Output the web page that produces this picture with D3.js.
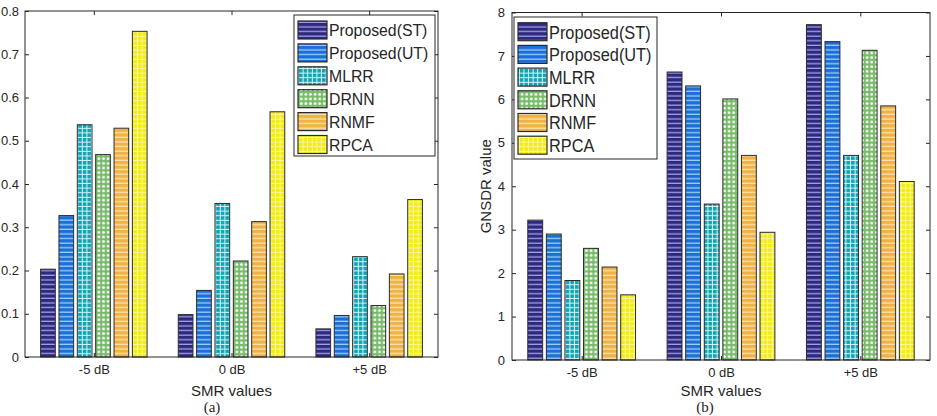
<!DOCTYPE html>
<html>
<head>
<meta charset="utf-8">
<script src="https://cdn.jsdelivr.net/npm/d3@7"></script>
<style>
  body { margin: 0; background: #fff; }
  text { font-family: "Liberation Sans", Arial, sans-serif; fill: #262626; }
</style>
</head>
<body>
<div id="chart"></div>
<script>
// data
var categories = ["-5 dB", "0 dB", "+5 dB"];
var methods = ["Proposed(ST)", "Proposed(UT)", "MLRR", "DRNN", "RNMF", "RPCA"];

// (a) values, one array per method, in category order
var aST   = [0.203, 0.098, 0.065];
var aUT   = [0.327, 0.154, 0.096];
var aMLRR = [0.537, 0.355, 0.232];
var aDRNN = [0.468, 0.222, 0.119];
var aRNMF = [0.529, 0.313, 0.192];
var aRPCA = [0.753, 0.567, 0.364];

// (b) GNSDR values
var bST   = [3.22, 6.63, 7.72];
var bUT   = [2.90, 6.31, 7.33];
var bMLRR = [1.83, 3.59, 4.71];
var bDRNN = [2.57, 6.01, 7.13];
var bRNMF = [2.14, 4.71, 5.85];
var bRPCA = [1.50, 2.94, 4.11];

var yTicksA = [0, 0.1, 0.2, 0.3, 0.4, 0.5, 0.6, 0.7, 0.8];
var yTicksB = [0, 1, 2, 3, 4, 5, 6, 7, 8];

var svg = d3.select("#chart").append("svg")
  .attr("width", 937)
  .attr("height", 416);

svg.append("rect").attr("width", 937).attr("height", 416).attr("fill", "#fff");

// hatch patterns (matlab hatchfill look)
var defs = svg.append("defs");
var step = 4.6;

function stripes(id, base, line) {
  var p = defs.append("pattern").attr("id", id)
    .attr("patternUnits", "userSpaceOnUse")
    .attr("width", step).attr("height", step);
  p.append("rect").attr("width", step).attr("height", step).attr("fill", base);
  p.append("rect").attr("y", step - 1.3).attr("width", step).attr("height", 1.3).attr("fill", line);
}
function grid(id, base, line) {
  var p = defs.append("pattern").attr("id", id)
    .attr("patternUnits", "userSpaceOnUse")
    .attr("width", step).attr("height", step);
  p.append("rect").attr("width", step).attr("height", step).attr("fill", base);
  p.append("rect").attr("y", step - 1).attr("width", step).attr("height", 1).attr("fill", line);
  p.append("rect").attr("x", step - 1).attr("width", 1).attr("height", step).attr("fill", line);
}
function dots(id, base, dot) {
  var p = defs.append("pattern").attr("id", id)
    .attr("patternUnits", "userSpaceOnUse")
    .attr("width", step).attr("height", step);
  p.append("rect").attr("width", step).attr("height", step).attr("fill", base);
  p.append("circle").attr("cx", step / 2).attr("cy", step / 2).attr("r", 1.4).attr("fill", dot);
}

stripes("pST", "#2d2a7e", "#a49ee6");
stripes("pUT", "#1b6fd6", "#9fcdf7");
grid("pMLRR", "#13a2b4", "#d8f6fa");
dots("pDRNN", "#78bb6a", "#ffffff");
stripes("pRNMF", "#f0b246", "#fde3b0");
grid("pRPCA", "#f3ec12", "#fbf89c");

var fills = ["url(#pST)", "url(#pUT)", "url(#pMLRR)", "url(#pDRNN)", "url(#pRNMF)", "url(#pRPCA)"];

function drawPanel(opt) {
  var x = d3.scaleLinear().domain([0.5, 3.5]).range([opt.left, opt.right]);
  var y = d3.scaleLinear().domain([0, opt.ymax]).range([opt.bottom, opt.top]);
  var g = svg.append("g");

  // left axis, ticks inward
  var leftAxis = d3.axisLeft(y).tickValues(opt.yTicks).tickSize(-4).tickSizeOuter(0)
    .tickPadding(opt.pad).tickFormat(opt.fmt);
  var la = g.append("g").attr("transform", `translate(${opt.left},0)`).call(leftAxis);
  la.select(".domain").remove();
  la.selectAll("line").attr("stroke", "#262626");
  la.selectAll("text").style("font-size", "13px").attr("fill", "#262626");

  // right axis ticks
  var ra = g.append("g").attr("transform", `translate(${opt.right},0)`)
    .call(d3.axisRight(y).tickValues(opt.yTicks).tickSize(-4).tickSizeOuter(0).tickFormat(""));
  ra.select(".domain").remove();
  ra.selectAll("line").attr("stroke", "#262626");

  // top axis ticks
  var ta = g.append("g").attr("transform", `translate(0,${opt.top})`)
    .call(d3.axisTop(x).tickValues([1, 2, 3]).tickSize(-4).tickSizeOuter(0).tickFormat(""));
  ta.select(".domain").remove();
  ta.selectAll("line").attr("stroke", "#262626");

  // bottom axis with category labels
  var ba = g.append("g").attr("transform", `translate(0,${opt.bottom})`)
    .call(d3.axisBottom(x).tickValues([1, 2, 3]).tickSize(-4).tickSizeOuter(0)
      .tickPadding(8).tickFormat(d => categories[d - 1]));
  ba.select(".domain").remove();
  ba.selectAll("line").attr("stroke", "#262626");
  ba.selectAll("text").style("font-size", "13px").attr("fill", "#262626");

  // bars
  var pitch = 0.8 / methods.length;
  var bw = x(1 + pitch * 0.8) - x(1);
  opt.series.forEach(function(vals, j) {
    g.append("g").selectAll("rect")
      .data(vals)
      .enter()
      .append("rect")
      .attr("x", (d, i) => x(i + 1 + (j - 2.5) * pitch) - bw / 2)
      .attr("y", d => y(d))
      .attr("width", bw)
      .attr("height", d => y(0) - y(d))
      .attr("fill", fills[j])
      .attr("stroke", "#2a2a2a")
      .attr("stroke-width", 1);
  });

  // box
  g.append("rect")
    .attr("x", opt.left).attr("y", opt.top)
    .attr("width", opt.right - opt.left).attr("height", opt.bottom - opt.top)
    .attr("fill", "none").attr("stroke", "#262626").attr("stroke-width", 1);

  // legend
  var lg = g.append("g");
  lg.append("rect")
    .attr("x", opt.lg.x).attr("y", opt.lg.y)
    .attr("width", opt.lg.w).attr("height", opt.lg.h)
    .attr("fill", "#fff").attr("stroke", "#262626").attr("stroke-width", 1);
  methods.forEach(function(m, j) {
    var cy = opt.lg.y0 + j * opt.lg.dy;
    lg.append("rect")
      .attr("x", opt.lg.x + 4).attr("y", cy - 9)
      .attr("width", 29).attr("height", 18)
      .attr("fill", fills[j]).attr("stroke", "#2a2a2a").attr("stroke-width", 1.2);
    lg.append("text")
      .attr("transform", `translate(${opt.lg.x + 35},${cy + opt.lg.fs * 0.36}) scale(${opt.lg.sx},1)`)
      .style("font-size", opt.lg.fs + "px")
      .text(m);
  });

  // labels
  g.append("text")
    .attr("x", (opt.left + opt.right) / 2).attr("y", 396)
    .attr("text-anchor", "middle").style("font-size", "15px")
    .text("SMR values");
  g.append("text")
    .attr("x", opt.capX).attr("y", 412)
    .attr("text-anchor", "middle")
    .style("font-family", "'Liberation Serif', 'Times New Roman', serif")
    .style("font-size", "15px")
    .text(opt.caption);
  if (opt.ylabel) {
    g.append("text")
      .attr("transform", `translate(${opt.left - 21},${(opt.top + opt.bottom) / 2}) rotate(-90)`)
      .attr("text-anchor", "middle").style("font-size", "15px")
      .text(opt.ylabel);
  }
}

drawPanel({
  left: 25, right: 438, top: 11, bottom: 357, ymax: 0.8,
  yTicks: yTicksA, pad: 6,
  fmt: d => d === 0 ? "0" : d.toFixed(1),
  series: [aST, aUT, aMLRR, aDRNN, aRNMF, aRPCA],
  lg: { x: 294, y: 15, w: 141, h: 141, y0: 30, dy: 22.9, fs: 17, sx: 0.93 },
  caption: "(a)", capX: 212
});

drawPanel({
  left: 512, right: 930, top: 12.5, bottom: 360, ymax: 8,
  yTicks: yTicksB, pad: 7,
  fmt: d => String(d),
  series: [bST, bUT, bMLRR, bDRNN, bRNMF, bRPCA],
  lg: { x: 514, y: 17, w: 143, h: 142, y0: 31.7, dy: 22.7, fs: 19, sx: 0.86 },
  caption: "(b)", capX: 705,
  ylabel: "GNSDR value"
});
</script>
</body>
</html>
